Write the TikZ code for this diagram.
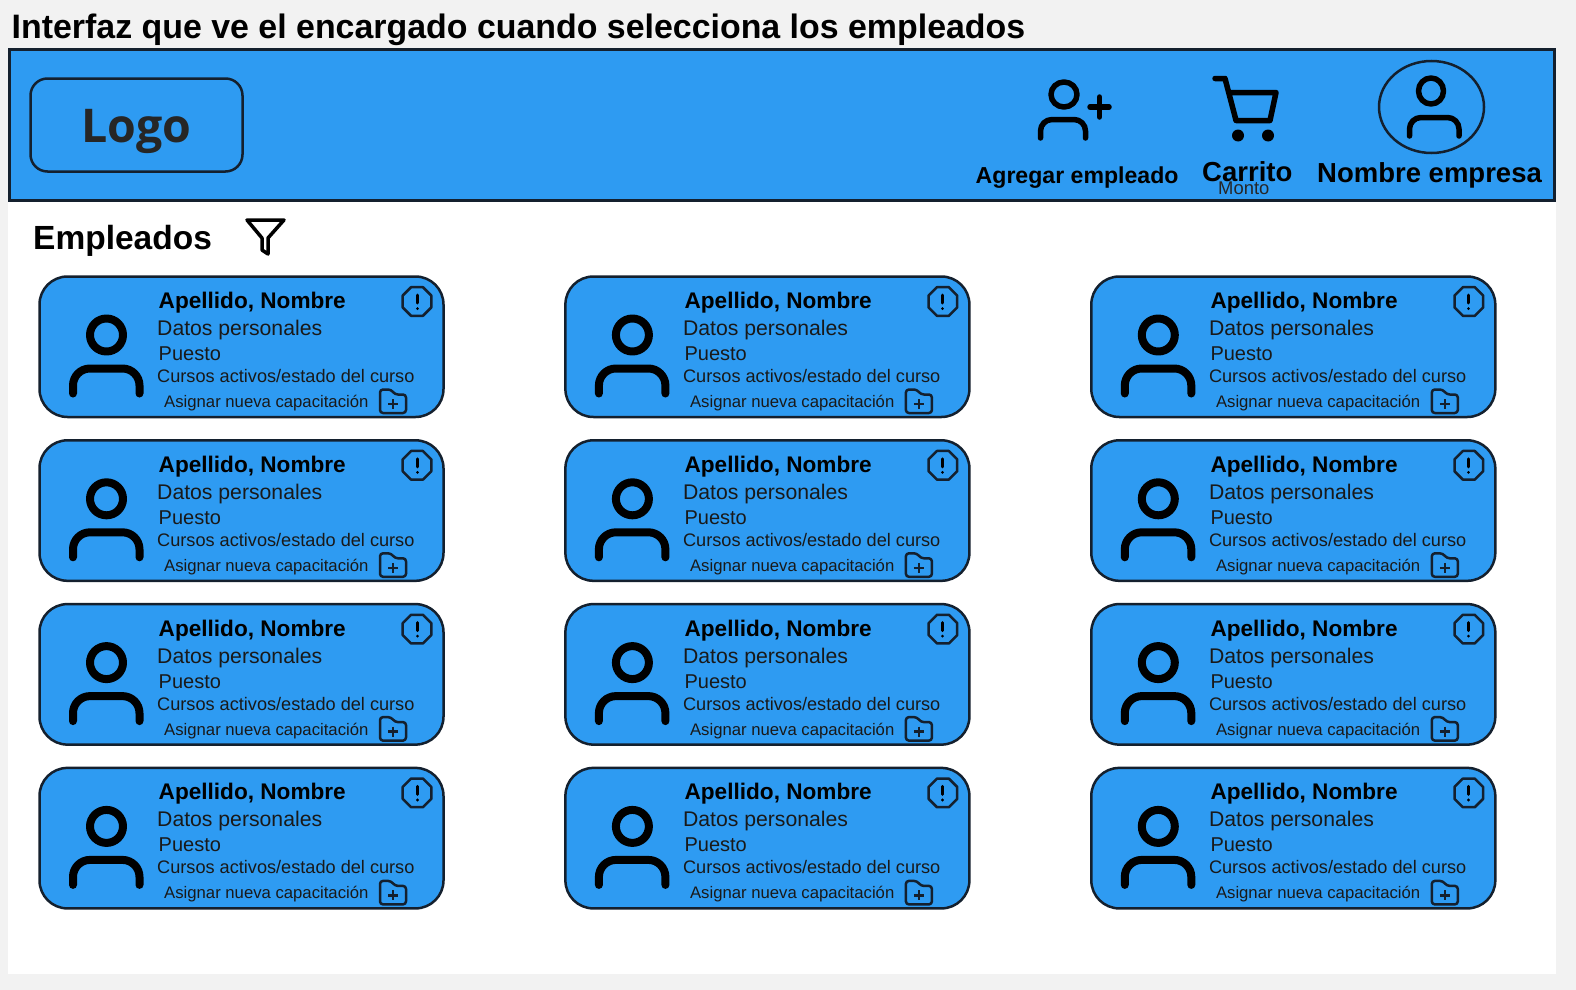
\documentclass[tikz,border=0pt]{standalone}
\usepackage{fontspec}
\setmainfont{Liberation Sans}
\newfontfamily\logofont{Open Sans}
\usetikzlibrary{shapes.geometric}
\definecolor{azul}{HTML}{2E9BF2}
\definecolor{borde}{HTML}{14202E}
\definecolor{fondo}{HTML}{F2F2F2}

\begin{document}
\begin{tikzpicture}[
  x=1pt,y=-1pt,
  txt/.style={anchor=base west,inner sep=0pt,text=black},
  titulo/.style={txt,font=\fontsize{22.6}{24}\selectfont\bfseries},
  datos/.style={txt,text=black!90,font=\fontsize{21.2}{24}\selectfont},
  puesto/.style={txt,text=black!90,font=\fontsize{20}{24}\selectfont},
  cursos/.style={txt,text=black!90,font=\fontsize{18.15}{20}\selectfont},
  asignar/.style={txt,text=black!90,font=\fontsize{16.7}{18}\selectfont},
  cabecera/.style={txt,font=\fontsize{27.5}{32}\selectfont\bfseries},
  icono/.style={line width=5.5pt,line cap=round,line join=round},
  iconogrueso/.style={line width=8pt,line cap=round,line join=round},
  iconofino/.style={line width=2.5pt,draw=borde,line cap=round,line join=round}
]
  \useasboundingbox (0,0) rectangle (1576,990);
  \fill[fondo] (0,0) rectangle (1576,990);
  \fill[white] (8,200) rectangle (1556,974);

  \node[txt,font=\fontsize{33.9}{38}\selectfont\bfseries] (title) at (11.5,38) {Interfaz que ve el encargado cuando selecciona los empleados};

  % barra superior
  \draw[fill=azul,draw=borde,line width=3pt] (9.5,49.5) rectangle (1554,200.5);
  \node[draw=borde,fill=azul,line width=2.5pt,rounded corners=17pt,minimum width=212pt,minimum height=93pt,inner sep=0pt,
    text height=45pt,text depth=11pt,font=\fontsize{46.5}{50}\logofont\bfseries,text=black!85] (logo) at (136.5,125) {Logo};

  % agregar empleado
  \draw[icono] (1064,94.5) ellipse (13 and 12.5);
  \draw[icono] (1040.5,138) -- (1040.5,131) arc (180:270:11.5) -- (1074,119.5) arc (270:360:11.5) -- (1085.5,138);
  \draw[icono] (1090,107) -- (1109,107) (1099.5,97) -- (1099.5,117);
  \node[txt,font=\fontsize{23.1}{26}\selectfont\bfseries] (agregar) at (975.5,183) {Agregar empleado};

  % carrito
  \draw[icono] (1215,78.5) -- (1225,78.5) -- (1235,116.5) -- (1236,120.5) -- (1270,120.5) -- (1276,92.5) -- (1231,92.5);
  \fill (1238,135.5) circle (6) (1268,135.5) circle (6);
  \node[cabecera] (carrito) at (1202,181) {Carrito};
  \node[txt,font=\fontsize{18.4}{20}\selectfont,text=black!85] (monto) at (1218,194) {Monto};

  % empresa
  \draw[draw=borde,line width=2.5pt] (1431.5,107) ellipse (52.5 and 46);
  \draw[icono] (1431,91) ellipse (12.5 and 13);
  \draw[icono] (1409.5,136) -- (1409.5,129) arc (180:270:11.5) -- (1447.5,117.5) arc (270:360:11.5) -- (1459,136);
  \node[cabecera] (empresa) at (1317,182) {Nombre empresa};

  % empleados y filtro
  \node[txt,font=\fontsize{33.5}{38}\selectfont\bfseries] (empleados) at (33,249.5) {Empleados};
  \draw[line width=3.5pt,line join=round] (247,220) -- (284,220) -- (268,238) -- (268,254) -- (262,250) -- (262,238) -- cycle;

  % tarjetas
  \foreach \c in {0,1,2}{
    \foreach \r in {0,1,2,3}{
      \begin{scope}[shift={(39.5+525.9*\c,276.5+163.8*\r)}]
        \draw[fill=azul,draw=borde,line width=2.5pt,rounded corners=28pt] (0,0) rectangle (404,140.5);
        \draw[iconogrueso] (67,58.5) circle (16.5);
        \draw[iconogrueso] (33.5,117) -- (33.5,109) arc (180:270:17) -- (83,92) arc (270:360:17) -- (100,117);
        \node[titulo] (nombre\c\r) at (119,32) {Apellido, Nombre};
        \node[datos] (datos\c\r) at (117.5,59) {Datos personales};
        \node[puesto] (puesto\c\r) at (119,84) {Puesto};
        \node[cursos] (cursos\c\r) at (117.5,106) {Cursos activos/estado del curso};
        \node[asignar] (asignar\c\r) at (124.5,131) {Asignar nueva capacitación};
        \node[regular polygon,regular polygon sides=8,minimum size=31pt,inner sep=0pt,iconofino] (alerta\c\r) at (377.5,25) {};
        \draw[line width=3pt,line cap=round] (377.5,18.5) -- (377.5,26.5) (377.5,32) -- (377.5,32.1);
        \draw[iconofino,rounded corners=3pt] (340.5,113) -- (351.5,113) -- (355.5,118) -- (366.5,118) -- (366.5,136.5) -- (340.5,136.5) -- cycle;
        \draw[line width=2.5pt,draw=borde] (348.5,127.5) -- (358.5,127.5) (353.5,122.5) -- (353.5,132.5);
      \end{scope}
    }
  }
\end{tikzpicture}
\end{document}
